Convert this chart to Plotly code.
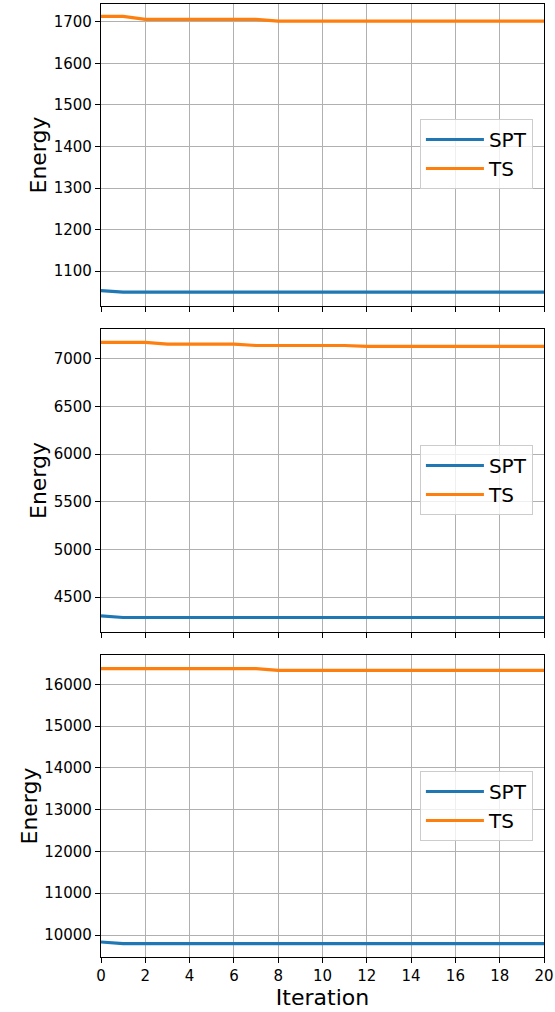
import plotly.graph_objects as go

iterations = list(range(21))

spt_1 = [1053] + [1049.5] * 20
ts_1 = [1713, 1713] + [1706] * 6 + [1702] * 13

spt_2 = [4303] + [4286] * 20
ts_2 = [7172, 7172, 7172] + [7155] * 4 + [7140] * 5 + [7130] * 9

spt_3 = [9833] + [9794] * 20
ts_3 = [16375] * 8 + [16335] * 13

y_ranges = [(1016, 1743), (4134, 7313), (9474, 16701)]
y_ticks = [list(range(1100, 1701, 100)), list(range(4500, 7001, 500)), list(range(10000, 16001, 1000))]
x_ticks = list(range(0, 21, 2))

BLUE = "#1f77b4"
ORANGE = "#ff7f0e"
FONT = "DejaVu Sans"

fig = go.Figure()

H = 953.0
domains = [((957 - 306) / H, 1.0), ((957 - 632) / H, (957 - 329) / H), (0.0, (957 - 655) / H)]
legend_y = [(957 - 154) / H, (957 - 480) / H, (957 - 806) / H]
series = [(spt_1, ts_1), (spt_2, ts_2), (spt_3, ts_3)]

for i, (spt, ts) in enumerate(series):
    n = i + 1
    xa = "x" if n == 1 else f"x{n}"
    ya = "y" if n == 1 else f"y{n}"
    lg = "legend" if n == 1 else f"legend{n}"
    fig.add_trace(go.Scatter(x=iterations, y=spt, mode="lines", name="SPT",
                             line=dict(color=BLUE, width=3.2), xaxis=xa, yaxis=ya, legend=lg))
    fig.add_trace(go.Scatter(x=iterations, y=ts, mode="lines", name="TS",
                             line=dict(color=ORANGE, width=3.2), xaxis=xa, yaxis=ya, legend=lg))
    axis_common = dict(showline=True, linecolor="black", linewidth=1.3, mirror=True,
                       ticks="outside", ticklen=5, tickwidth=1.2, tickcolor="black",
                       showgrid=True, gridcolor="#b0b0b0", gridwidth=1, zeroline=False,
                       automargin=False,
                       tickfont=dict(family=FONT, size=15, color="black"))
    xkey = "xaxis" if n == 1 else f"xaxis{n}"
    ykey = "yaxis" if n == 1 else f"yaxis{n}"
    fig.update_layout({
        xkey: dict(axis_common, domain=[0, 1], anchor=ya, range=[0, 20], tickvals=x_ticks,
                   ticktext=[str(v) for v in x_ticks],
                   showticklabels=(n == 3),
                   title=dict(text="Iteration", font=dict(family=FONT, size=22, color="black"), standoff=5) if n == 3 else None),
        ykey: dict(axis_common, domain=list(domains[i]), anchor=xa, range=list(y_ranges[i]),
                   tickvals=y_ticks[i], ticktext=[str(v) for v in y_ticks[i]],
                   title=dict(text="Energy", font=dict(family=FONT, size=22, color="black"), standoff=0)),
        lg: dict(x=0.975, xanchor="right", y=legend_y[i], yanchor="middle",
                 bgcolor="rgba(255,255,255,0.8)", bordercolor="#cccccc", borderwidth=1,
                 itemwidth=58,
                 font=dict(family=FONT, size=20, color="black"), tracegroupgap=0),
    })

fig.update_layout(width=555, height=1012, margin=dict(l=101, r=11, t=4, b=55, autoexpand=False),
                  plot_bgcolor="white", paper_bgcolor="white", showlegend=True,
                  font=dict(family=FONT))

fig.write_html("out.html", config={"displayModeBar": False},
               post_script="document.body.style.margin='0';document.body.style.overflow='hidden';")
